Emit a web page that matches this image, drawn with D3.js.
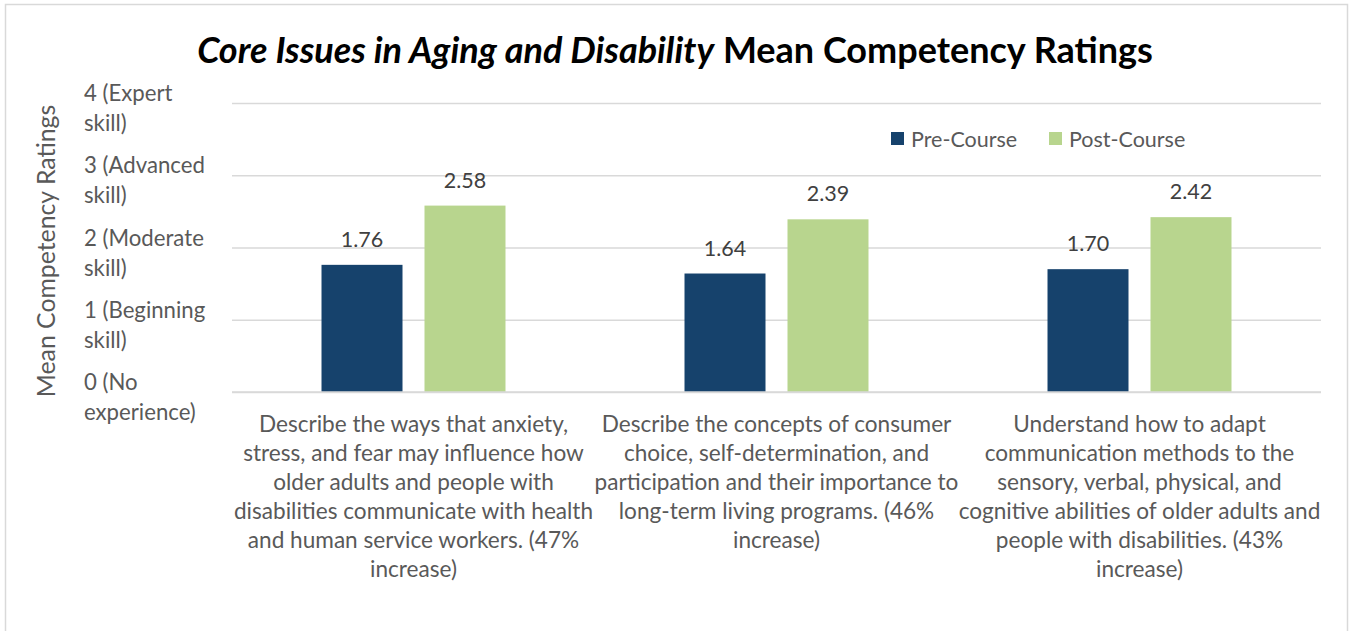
<!DOCTYPE html>
<html>
<head>
<meta charset="utf-8">
<script src="https://cdn.jsdelivr.net/npm/d3@7"></script>
<style>
  html, body { margin: 0; padding: 0; background: #fff; }
  svg { display: block; }
  text { font-family: Lato, "Open Sans", sans-serif; }
</style>
</head>
<body>
<svg id="chart" width="1351" height="631"></svg>
<script>
// Course outcome statements (one array of wrapped lines per category)
const categories = [
  ["Describe the ways that anxiety,", "stress, and fear may influence how", "older adults and people with",
   "disabilities communicate with health", "and human service workers. (47%", "increase)"],
  ["Describe the concepts of consumer", "choice, self-determination, and", "participation and their importance to",
   "long-term living programs. (46%", "increase)"],
  ["Understand how to adapt", "communication methods to the", "sensory, verbal, physical, and",
   "cognitive abilities of older adults and", "people with disabilities. (43%", "increase)"]
];
const seriesNames = ["Pre-Course", "Post-Course"];
const preCourse = [1.76, 1.64, 1.70];
const postCourse = [2.58, 2.39, 2.42];
const tickValues = [0, 1, 2, 3, 4];
const tickLabels = [
  ["0 (No", "experience)"],
  ["1 (Beginning", "skill)"],
  ["2 (Moderate", "skill)"],
  ["3 (Advanced", "skill)"],
  ["4 (Expert", "skill)"]
];
const colors = ["#16426c", "#b8d58e"];

const svg = d3.select("#chart");
const W = 1351, H = 631;
const plot = { left: 232, right: 1321, top: 103, bottom: 392 };

// Outer chart frame
svg.append("rect")
  .attr("x", 5.5).attr("y", 4.5).attr("width", W - 9).attr("height", H + 10)
  .attr("fill", "#fff").attr("stroke", "#d9d9d9").attr("stroke-width", 1.5);

// Scales
const keys = categories.map((c, i) => "c" + i);
const x0 = d3.scaleBand().domain(keys).range([plot.left, plot.right]).paddingInner(0).paddingOuter(0);
const x1 = d3.scaleBand().domain(seriesNames).range([0, x0.bandwidth()])
  .paddingInner(0.2136).paddingOuter(0.869);
const y = d3.scaleLinear().domain([0, 4]).range([plot.bottom, plot.top]);

// Gridlines
const grid = svg.append("g")
  .attr("transform", `translate(${plot.left},0)`)
  .call(d3.axisLeft(y).tickValues(tickValues).tickSize(-(plot.right - plot.left)).tickFormat(""));
grid.select(".domain").remove();
grid.selectAll(".tick line").attr("stroke", "#d9d9d9").attr("stroke-width", 1.5);

// Y tick labels (two lines each)
const yl = svg.append("g").attr("fill", "#595959").attr("font-size", 22.2);
tickValues.forEach((t, i) => {
  const txt = yl.append("text").attr("x", 84).attr("y", y(t) - 2);
  tickLabels[i].forEach((line, j) => {
    txt.append("tspan").attr("x", 84).attr("dy", j === 0 ? 0 : 30).text(line);
  });
});

// Y axis title
svg.append("text")
  .attr("transform", `translate(55,251) rotate(-90)`)
  .attr("text-anchor", "middle")
  .attr("fill", "#595959").attr("font-size", 24.8)
  .text("Mean Competency Ratings");

// Bars
const data = keys.map((k, i) => ({ key: k, values: [preCourse[i], postCourse[i]] }));
const groups = svg.append("g").selectAll("g").data(data).join("g")
  .attr("transform", d => `translate(${x0(d.key)},0)`);
groups.selectAll("rect")
  .data(d => d.values.map((v, j) => ({ name: seriesNames[j], v, j })))
  .join("rect")
  .attr("x", d => x1(d.name))
  .attr("width", x1.bandwidth())
  .attr("y", d => y(d.v))
  .attr("height", d => y(0) - y(d.v))
  .attr("fill", d => colors[d.j]);

// Value labels
groups.selectAll("text.val")
  .data(d => d.values.map((v, j) => ({ name: seriesNames[j], v })))
  .join("text").attr("class", "val")
  .attr("x", d => x1(d.name) + x1.bandwidth() / 2)
  .attr("y", d => y(d.v) - 18)
  .attr("text-anchor", "middle")
  .attr("fill", "#404040").attr("font-size", 21.5)
  .text(d => d3.format(".2f")(d.v));

// Category axis baseline
svg.append("line")
  .attr("x1", plot.left).attr("x2", plot.right)
  .attr("y1", y(0)).attr("y2", y(0))
  .attr("stroke", "#d9d9d9").attr("stroke-width", 1.5);

// Category labels
const cl = svg.append("g").attr("fill", "#595959").attr("font-size", 22.6).attr("text-anchor", "middle");
categories.forEach((lines, i) => {
  const cx = x0(keys[i]) + x0.bandwidth() / 2;
  const txt = cl.append("text").attr("x", cx).attr("y", 432);
  lines.forEach((line, j) => {
    txt.append("tspan").attr("x", cx).attr("dy", j === 0 ? 0 : 29).text(line);
  });
});

// Legend
const legend = svg.append("g").attr("font-size", 21.5).attr("fill", "#595959");
const legendX = [891, 1049];
seriesNames.forEach((name, i) => {
  legend.append("rect").attr("x", legendX[i]).attr("y", 132).attr("width", 13).attr("height", 13)
    .attr("fill", colors[i]);
  legend.append("text").attr("x", legendX[i] + 20).attr("y", 139).attr("dy", "0.35em").text(name);
});

// Title
const title = svg.append("text")
  .attr("x", 675).attr("y", 63).attr("text-anchor", "middle")
  .attr("font-size", 36).attr("font-weight", "bold").attr("fill", "#000");
title.append("tspan").attr("font-style", "italic").text("Core Issues in Aging and Disability");
title.append("tspan").text(" Mean Competency Ratings");
</script>
</body>
</html>
